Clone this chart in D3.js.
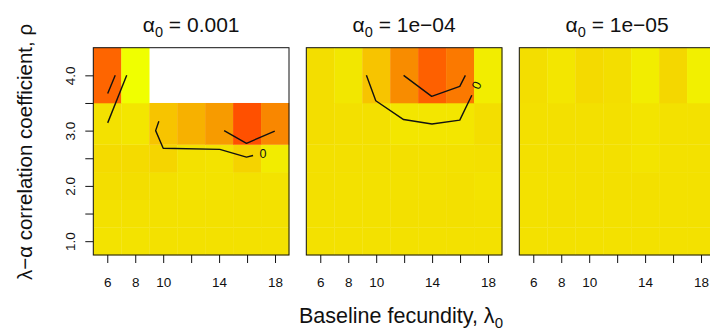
<!DOCTYPE html>
<html>
<head>
<meta charset="utf-8">
<title>alpha panels</title>
<script src="https://cdn.jsdelivr.net/npm/d3@7"></script>
<style>
  body { margin: 0; background: #fff; }
  svg text { font-family: "Liberation Sans", Arial, Helvetica, sans-serif; fill: #111; }
  .axis path { display: none; }
  .axis line { stroke: #111; stroke-width: 1; }
  .axis text { font-size: 13.5px; }
  .contour { fill: none; stroke: #111; stroke-width: 1.4; stroke-linejoin: round; }
</style>
</head>
<body>
<svg width="710" height="333"></svg>
<script>

// grid of the heat maps
var lambda = [6, 8, 10, 12, 14, 16, 18];
var rho = [1, 1.5, 2, 2.5, 3, 4];
var alphaLabels = ["0.001", "1e\u221204", "1e\u221205"];
var xTickLabels = ["6", "8", "10", "", "14", "", "18"];
var yTicks = [1, 1.5, 2, 2.5, 3, 3.5, 4];
var yTickLabels = ["1.0", "", "2.0", "", "3.0", "", "4.0"];

// cell values, one row per rho (1 .. 4), one column per lambda; null = no value
var valuesA = [
  [0.19, 0.19, 0.20, 0.20, 0.20, 0.20, 0.20],
  [0.20, 0.20, 0.20, 0.20, 0.20, 0.20, 0.20],
  [0.22, 0.22, 0.21, 0.19, 0.19, 0.20, 0.19],
  [0.24, 0.24, 0.28, 0.20, 0.19, 0.30, 0.13],
  [0.20, 0.17, 0.40, 0.50, 0.62, 1.00, 0.72],
  [0.87, 0.00, null, null, null, null, null]
];
var valuesB = [
  [0.20, 0.20, 0.20, 0.20, 0.20, 0.20, 0.20],
  [0.20, 0.20, 0.20, 0.21, 0.21, 0.21, 0.20],
  [0.21, 0.20, 0.20, 0.20, 0.20, 0.21, 0.19],
  [0.21, 0.21, 0.21, 0.21, 0.20, 0.20, 0.21],
  [0.22, 0.21, 0.21, 0.17, 0.17, 0.17, 0.22],
  [0.22, 0.16, 0.40, 0.70, 0.90, 0.78, 0.12]
];
var valuesC = [
  [0.20, 0.20, 0.20, 0.20, 0.20, 0.20, 0.20],
  [0.20, 0.21, 0.20, 0.20, 0.20, 0.20, 0.20],
  [0.20, 0.20, 0.21, 0.21, 0.21, 0.20, 0.20],
  [0.21, 0.21, 0.21, 0.21, 0.18, 0.20, 0.20],
  [0.21, 0.21, 0.21, 0.21, 0.18, 0.20, 0.20],
  [0.22, 0.17, 0.25, 0.22, 0.12, 0.27, 0.10]
];

// contour lines as [lambda, rho] points
var contoursA = [
  [[6.57, 4.0], [6.03, 3.67]],
  [[7.39, 4.0], [6.03, 3.14]],
  [[9.69, 3.17], [9.46, 3.0], [10.0, 2.68], [14.05, 2.66], [15.96, 2.52], [16.43, 2.55]],
  [[14.36, 3.0], [15.96, 2.77], [17.98, 2.99]]
];
var contoursB = [
  [[9.30, 4.0], [9.97, 3.54], [11.96, 3.20], [13.99, 3.12], [15.98, 3.19], [16.84, 3.64]],
  [[11.96, 4.0], [13.97, 3.62], [15.98, 3.80], [16.38, 4.0]]
];
var contoursC = [];

// contour labels: [lambda, rho, angle]
var labelsA = [[17.14, 2.59, 0]];
var labelsB = [[17.17, 3.82, -65]];
var labelsC = [];

var panels = [
  {title: alphaLabels[0], values: valuesA, contours: contoursA, labels: labelsA},
  {title: alphaLabels[1], values: valuesB, contours: contoursB, labels: labelsB},
  {title: alphaLabels[2], values: valuesC, contours: contoursC, labels: labelsC}
];

var svg = d3.select("svg");

var color = d3.scaleLinear()
    .domain([0, 0.2, 0.4, 0.55, 0.7, 0.85, 1])
    .range(["#f0ff00", "#f3e100", "#f7c400", "#f7a800", "#f88c00", "#fe6800", "#ff5000"]);

// cell edges like R image(): midpoints between values, half step at the ends
function edges(v) {
  var e = [v[0] - (v[1] - v[0]) / 2];
  for (var i = 1; i < v.length; i++) e.push((v[i - 1] + v[i]) / 2);
  e.push(v[v.length - 1] + (v[v.length - 1] - v[v.length - 2]) / 2);
  return e;
}
var xEdges = edges(lambda), yEdges = edges(rho);

var y = d3.scaleLinear().domain([yEdges[0], yEdges[yEdges.length - 1]]).range([255, 47.7]);
var panelLeft = 93.3, panelW = 195.7, panelStep = 213;

panels.forEach(function(p, k) {
  var x0 = panelLeft + k * panelStep;
  var x = d3.scaleLinear().domain([xEdges[0], xEdges[xEdges.length - 1]]).range([x0, x0 + panelW]);
  var g = svg.append("g");

  var cells = [];
  p.values.forEach(function(row, i) {
    row.forEach(function(v, j) {
      if (v !== null) cells.push({i: i, j: j, v: v});
    });
  });

  g.selectAll("rect.cell")
    .data(cells)
    .enter().append("rect")
      .attr("class", "cell")
      .attr("x", function(d) { return x(xEdges[d.j]); })
      .attr("y", function(d) { return y(yEdges[d.i + 1]); })
      .attr("width", function(d) { return x(xEdges[d.j + 1]) - x(xEdges[d.j]) + 0.3; })
      .attr("height", function(d) { return y(yEdges[d.i]) - y(yEdges[d.i + 1]) + 0.3; })
      .attr("fill", function(d) { return color(d.v); });

  var line = d3.line()
      .x(function(d) { return x(d[0]); })
      .y(function(d) { return y(d[1]); });

  g.selectAll("path.contour")
    .data(p.contours)
    .enter().append("path")
      .attr("class", "contour")
      .attr("d", line);

  g.selectAll("text.clab")
    .data(p.labels)
    .enter().append("text")
      .attr("class", "clab")
      .attr("transform", function(d) { return "translate(" + x(d[0]) + "," + y(d[1]) + ") rotate(" + d[2] + ")"; })
      .attr("text-anchor", "middle")
      .attr("dy", "0.35em")
      .style("font-size", "12.5px")
      .text("0");

  // box
  g.append("rect")
      .attr("x", x.range()[0])
      .attr("y", y.range()[1])
      .attr("width", panelW)
      .attr("height", y.range()[0] - y.range()[1])
      .attr("fill", "none")
      .attr("stroke", "#111")
      .attr("stroke-width", 1);

  // x axis
  g.append("g")
      .attr("class", "axis")
      .attr("transform", "translate(0,255)")
      .call(d3.axisBottom(x)
        .tickValues(lambda)
        .tickSize(8)
        .tickPadding(14)
        .tickFormat(function(d, i) { return xTickLabels[i]; }));

  // title
  var t = g.append("text")
      .attr("x", x0 + panelW / 2)
      .attr("y", 31.5)
      .attr("text-anchor", "middle")
      .style("font-size", "21px");
  t.append("tspan").text("\u03b1");
  t.append("tspan").attr("dy", 5).style("font-size", "14.5px").text("0");
  t.append("tspan").attr("dy", -5).text(" = " + p.title);

  if (k === 0) {
    var ya = g.append("g")
        .attr("class", "axis")
        .attr("transform", "translate(" + x0 + ",0)")
        .call(d3.axisLeft(y)
          .tickValues(yTicks)
          .tickSize(8)
          .tickFormat(function(d, i) { return yTickLabels[i]; }));
    ya.selectAll("text")
        .attr("transform", "rotate(-90)")
        .attr("x", 0)
        .attr("y", -18)
        .attr("dy", 0)
        .attr("text-anchor", "middle");
  }
});

// axis titles
var xt = svg.append("text")
    .attr("x", 401)
    .attr("y", 322.5)
    .attr("text-anchor", "middle")
    .style("font-size", "21.5px");
xt.append("tspan").text("Baseline fecundity, \u03bb");
xt.append("tspan").attr("dy", 5).style("font-size", "15px").text("0");

svg.append("text")
    .attr("transform", "translate(32,152) rotate(-90)")
    .attr("text-anchor", "middle")
    .style("font-size", "20.5px")
    .text("\u03bb\u2212\u03b1 correlation coefficient, \u03c1");

</script>
</body>
</html>
